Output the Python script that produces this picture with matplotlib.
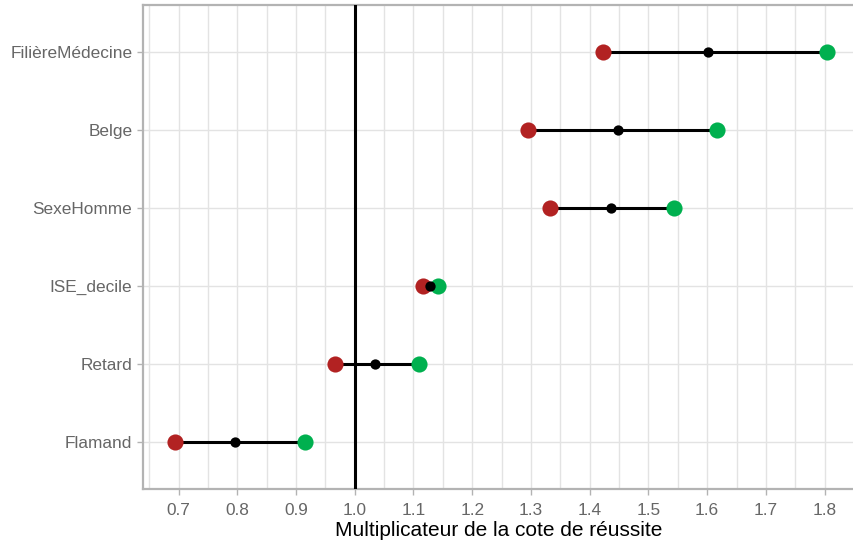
import matplotlib.pyplot as plt
import numpy as np

plt.rcParams['font.family'] = ['Liberation Sans', 'DejaVu Sans']

# Coefficients (odds multipliers) with lower / upper bounds
variables = ['Flamand', 'Retard', 'ISE_decile', 'SexeHomme', 'Belge', 'FilièreMédecine']
lower = [0.694, 0.966, 1.117, 1.332, 1.295, 1.422]
estimate = [0.797, 1.035, 1.128, 1.436, 1.448, 1.602]
upper = [0.916, 1.110, 1.142, 1.544, 1.616, 1.804]
xticks = [0.7, 0.8, 0.9, 1.0, 1.1, 1.2, 1.3, 1.4, 1.5, 1.6, 1.7, 1.8]

fig = plt.figure(figsize=(8.54, 5.41), dpi=100)
ax = fig.add_axes([143.5 / 854, 52 / 541, 1 - 143.5 / 854, (489 - 5) / 541])

y = np.arange(len(variables))
grid_col = '#e3e3e3'
frame_col = '#b3b3b3'

ax.hlines(y, lower, upper, color='black', linewidth=2.2, zorder=3)
ax.axvline(1.0, color='black', linewidth=2.2, zorder=3)
ax.scatter(lower, y, s=135, color='#b22222', zorder=4, linewidths=0)
ax.scatter(upper, y, s=135, color='#00b04f', zorder=5, linewidths=0)
ax.scatter(estimate, y, s=55, color='black', zorder=6, linewidths=0)

ax.set_xlim(0.6404, 1.8467)
ax.set_ylim(-0.6, len(variables) - 0.4)
ax.set_yticks(y)
ax.set_yticklabels(variables)
ax.set_xticks(xticks)
ax.set_xticklabels([f'{t:.1f}' for t in xticks])
ax.set_xticks(np.arange(0.65, 1.85, 0.1), minor=True)

ax.grid(True, which='major', color=grid_col, linewidth=1.0, zorder=0)
ax.grid(True, which='minor', axis='x', color=grid_col, linewidth=1.0, zorder=0)
ax.set_axisbelow(True)

ax.tick_params(axis='both', which='major', length=4, width=1, color=frame_col,
               labelcolor='#666666', labelsize=12.4, pad=4)
ax.tick_params(axis='x', which='major', pad=6)
ax.tick_params(axis='x', which='minor', length=0)
for side in ['left', 'top', 'bottom']:
    ax.spines[side].set_color(frame_col)
    ax.spines[side].set_linewidth(1.6)
ax.spines['right'].set_visible(False)

ax.set_xlabel('Multiplicateur de la cote de réussite', fontsize=15, color='black', labelpad=2)

fig.savefig('out.png', dpi=100)
